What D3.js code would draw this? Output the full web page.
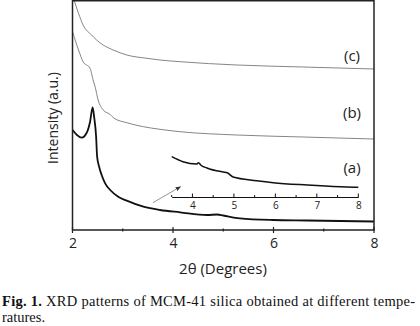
<!DOCTYPE html>
<html>
<head>
<meta charset="utf-8">
<script src="https://cdn.jsdelivr.net/npm/d3@7"></script>
<style>
  body { margin: 0; background: #fff; }
  svg { display: block; }
</style>
</head>
<body>
<div id="chart"></div>
<script>
// curve (a) - main pattern, [2theta, intensity a.u.]
var seriesA = [
  [2.00, 100], [2.09, 95], [2.18, 92.3], [2.28, 97], [2.35, 108.3], [2.40, 122.7],
  [2.43, 113.3], [2.47, 93.3], [2.49, 73.3], [2.53, 63.3], [2.58, 55], [2.65, 46.7],
  [2.75, 40], [2.91, 33.3], [3.08, 29.3], [3.41, 23.3], [3.74, 20], [4.14, 17.7],
  [4.68, 15], [4.88, 15.5], [5.0, 14.5], [5.33, 11.7], [5.99, 10], [6.67, 9.5],
  [7.33, 9], [8.0, 8.5]
];
// curve (b)
var seriesB = [
  [2.00, 198.3], [2.12, 180], [2.21, 168.3], [2.35, 161.7], [2.41, 150], [2.45, 143.3],
  [2.51, 130], [2.61, 120], [2.75, 115.5], [2.82, 112], [3.08, 107.3], [3.41, 103.3],
  [3.74, 100.7], [4.14, 98.3], [5.27, 95], [6.59, 93], [8.0, 91]
];
// curve (c)
var seriesC = [
  [2.03, 230], [2.12, 216.7], [2.21, 205], [2.38, 195], [2.48, 190], [2.61, 185],
  [2.81, 180], [3.08, 175], [3.48, 171.7], [3.74, 170], [4.14, 168.3], [5.27, 165],
  [6.59, 163], [8.0, 161]
];
// inset: magnified (a) from 3.5 to 8 degrees
var insetA = [
  [3.5, 40.3], [3.77, 35.3], [4.1, 33], [4.15, 34.3], [4.2, 32], [4.35, 29],
  [4.74, 25], [4.84, 24.3], [4.98, 20], [5.55, 16.3], [5.95, 14.3], [6.77, 12],
  [7.57, 10.3], [8.0, 9.7]
];
var xTicks = [2, 4, 6, 8];
var xMinorTicks = [3, 5, 7];
var insetTicks = [4, 5, 6, 7, 8];
var insetMinorTicks = [3.5, 4.5, 5.5, 6.5, 7.5];
var curveLabels = [["(c)", 8, 175], ["(b)", 8, 118], ["(a)", 8, 63]];
var arrowPts = [[3.60, 27.3], [4.15, 43.3]];

var W = 420, H = 326;
var svg = d3.select("#chart").append("svg")
    .attr("width", W).attr("height", H);

var mLeft = 72.5, mRight = 374, mTop = 0.75, mBottom = 230;

var x = d3.scaleLinear().domain([2, 8]).range([mLeft, mRight]);
var y = d3.scaleLinear().domain([0, 230]).range([mBottom, 0]);

// inset scales
var xi = d3.scaleLinear().domain([3.5, 8]).range([171.7, 358.3]);
var yi = d3.scaleLinear().domain([0, 45]).range([197, 152]);

var defs = svg.append("defs");
defs.append("clipPath").attr("id", "clip")
  .append("rect").attr("x", mLeft).attr("y", mTop)
  .attr("width", mRight - mLeft).attr("height", mBottom - mTop);

var line = d3.line()
    .x(function(d) { return x(d[0]); })
    .y(function(d) { return y(d[1]); })
    .curve(d3.curveMonotoneX);

var plot = svg.append("g").attr("clip-path", "url(#clip)");

plot.append("path").datum(seriesC)
    .attr("d", line).attr("fill", "none")
    .attr("stroke", "#777").attr("stroke-width", 0.9);
plot.append("path").datum(seriesB)
    .attr("d", line).attr("fill", "none")
    .attr("stroke", "#777").attr("stroke-width", 0.9);
plot.append("path").datum(seriesA)
    .attr("d", line).attr("fill", "none")
    .attr("stroke", "#111").attr("stroke-width", 1.8)
    .attr("stroke-linejoin", "round");

// inset curve
var lineI = d3.line()
    .x(function(d) { return xi(d[0]); })
    .y(function(d) { return yi(d[1]); })
    .curve(d3.curveMonotoneX);
svg.append("path").datum(insetA)
    .attr("d", lineI).attr("fill", "none")
    .attr("stroke", "#111").attr("stroke-width", 1.5)
    .attr("stroke-linejoin", "round");

// inset axis
var insetAxis = svg.append("g")
    .attr("transform", "translate(0," + yi(0) + ")")
    .call(d3.axisBottom(xi).tickValues(insetTicks).tickSize(0).tickPadding(5).tickFormat(d3.format("d")));
insetAxis.select(".domain").attr("stroke", "#111").attr("stroke-width", 1.2);
insetAxis.selectAll("text").attr("font-family", "Open Sans").attr("font-size", 10).attr("fill", "#222");
insetAxis.selectAll(".mj").data(insetTicks).enter().append("line")
    .attr("x1", function(d) { return xi(d); }).attr("x2", function(d) { return xi(d); })
    .attr("y1", 0).attr("y2", -3.5).attr("stroke", "#111").attr("stroke-width", 1);
insetAxis.selectAll(".mn").data(insetMinorTicks).enter().append("line")
    .attr("x1", function(d) { return xi(d); }).attr("x2", function(d) { return xi(d); })
    .attr("y1", 0).attr("y2", -2).attr("stroke", "#111").attr("stroke-width", 1);

// arrow
defs.append("marker")
    .attr("id", "arrow").attr("viewBox", "0 0 10 10")
    .attr("refX", 9).attr("refY", 5)
    .attr("markerWidth", 6).attr("markerHeight", 6)
    .attr("orient", "auto")
  .append("path").attr("d", "M0,1 L10,5 L0,9 z").attr("fill", "#333");
svg.append("line")
    .attr("x1", x(arrowPts[0][0])).attr("y1", y(arrowPts[0][1]))
    .attr("x2", x(arrowPts[1][0])).attr("y2", y(arrowPts[1][1]))
    .attr("stroke", "#888").attr("stroke-width", 0.9)
    .attr("marker-end", "url(#arrow)");

// curve labels
svg.selectAll(".lbl").data(curveLabels).enter().append("text")
    .attr("x", function(d) { return x(d[1]) - 22; })
    .attr("y", function(d) { return y(d[2]); })
    .attr("text-anchor", "middle")
    .attr("dominant-baseline", "central")
    .attr("font-family", "Open Sans").attr("font-size", 15).attr("fill", "#222")
    .text(function(d) { return d[0]; });

// frame
svg.append("rect")
    .attr("x", mLeft).attr("y", mTop)
    .attr("width", mRight - mLeft).attr("height", mBottom - mTop)
    .attr("fill", "none").attr("stroke", "#222").attr("stroke-width", 1.5);

// x axis
var xAxis = svg.append("g")
    .attr("transform", "translate(0," + mBottom + ")")
    .call(d3.axisBottom(x).tickValues(xTicks).tickSize(0).tickPadding(8).tickFormat(d3.format("d")));
xAxis.select(".domain").remove();
xAxis.selectAll("text").attr("font-family", "Open Sans").attr("font-size", 14).attr("fill", "#222");
xAxis.selectAll(".mj").data(xTicks).enter().append("line")
    .attr("x1", function(d) { return x(d); }).attr("x2", function(d) { return x(d); })
    .attr("y1", -3).attr("y2", 3).attr("stroke", "#222").attr("stroke-width", 1.2);
xAxis.selectAll(".mn").data(xMinorTicks).enter().append("line")
    .attr("x1", function(d) { return x(d); }).attr("x2", function(d) { return x(d); })
    .attr("y1", -1.5).attr("y2", 1.5).attr("stroke", "#222").attr("stroke-width", 1.2);

// axis titles
svg.append("text")
    .attr("x", 223).attr("y", 268)
    .attr("text-anchor", "middle").attr("dominant-baseline", "central")
    .attr("font-family", "Open Sans").attr("font-size", 15).attr("fill", "#222")
    .text("2θ (Degrees)");
svg.append("text")
    .attr("transform", "translate(52,118) rotate(-90)")
    .attr("text-anchor", "middle").attr("dominant-baseline", "central")
    .attr("font-family", "Open Sans").attr("font-size", 14).attr("fill", "#222")
    .text("Intensity (a.u.)");

// caption
var cap = svg.append("text")
    .attr("x", 2).attr("y", 306)
    .attr("font-family", "'Liberation Serif', 'Times New Roman', serif").attr("font-size", 14.5).attr("fill", "#111")
    .attr("textLength", 413).attr("lengthAdjust", "spacing");
cap.append("tspan").attr("font-weight", "bold").text("Fig. 1.");
cap.append("tspan").text(" XRD patterns of MCM-41 silica obtained at different tempe-");
svg.append("text")
    .attr("x", 2).attr("y", 322)
    .attr("font-family", "'Liberation Serif', 'Times New Roman', serif").attr("font-size", 14.5).attr("fill", "#111")
    .text("ratures.");
</script>
</body>
</html>
